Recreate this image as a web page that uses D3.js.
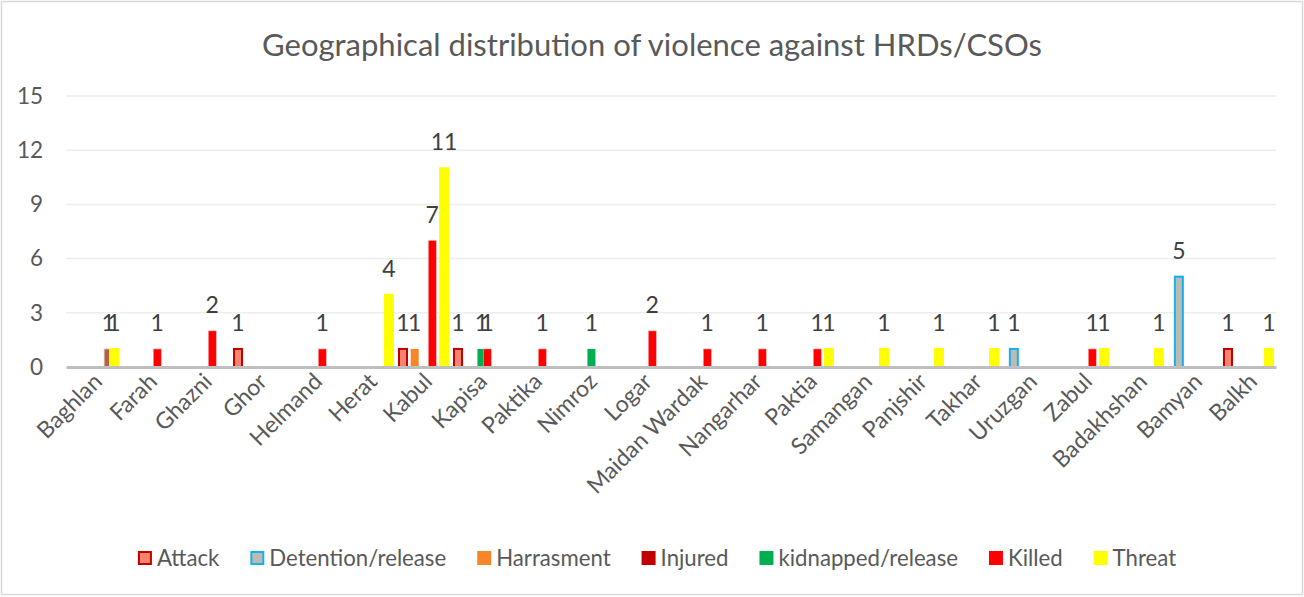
<!DOCTYPE html>
<html>
<head>
<meta charset="utf-8">
<script src="https://cdn.jsdelivr.net/npm/d3@7"></script>
<style>
  html, body { margin: 0; padding: 0; background: #fff; }
  svg { display: block; font-family: "Lato", "Open Sans", sans-serif; }
</style>
</head>
<body>
<svg id="chart" width="1304" height="597"></svg>
<script>
// Provinces along the category axis
const categories = ["Baghlan", "Farah", "Ghazni", "Ghor", "Helmand", "Herat", "Kabul", "Kapisa",
  "Paktika", "Nimroz", "Logar", "Maidan Wardak", "Nangarhar", "Paktia", "Samangan", "Panjshir",
  "Takhar", "Uruzgan", "Zabul", "Badakhshan", "Bamyan", "Balkh"];

// Incident counts per province, one array per incident type
const attack      = [0,0,0,1,0,0,1,1,0,0,0,0,0,0,0,0,0,0,0,0,0,1];
const detention   = [0,0,0,0,0,0,0,0,0,0,0,0,0,0,0,0,0,1,0,0,5,0];
const harrasment  = [0,0,0,0,0,0,1,0,0,0,0,0,0,0,0,0,0,0,0,0,0,0];
const injured     = [0,0,0,0,0,0,0,0,0,0,0,0,0,0,0,0,0,0,0,0,0,0];
const kidnapped   = [0,0,0,0,0,0,0,1,0,1,0,0,0,0,0,0,0,0,0,0,0,0];
const killed      = [0,1,2,0,1,0,7,1,1,0,2,1,1,1,0,0,0,0,1,0,0,0];
const unspecified = [1,0,0,0,0,0,0,0,0,0,0,0,0,0,0,0,0,0,0,0,0,0];
const threat      = [1,0,0,0,0,4,11,0,0,0,0,0,0,1,1,1,1,0,1,1,0,1];

const yTicks = [0, 3, 6, 9, 12, 15];

// Series in drawing order; the unlabelled one is kept out of the legend
const series = [
  { name: "Attack",            values: attack,      fill: "#F4846E", stroke: "#C00000", sw: 2,   legend: true },
  { name: "Detention/release", values: detention,   fill: "#BDBAB2", stroke: "#14B1EE", sw: 2,   legend: true },
  { name: "Harrasment",        values: harrasment,  fill: "#F7862A", stroke: "none",    sw: 0,   legend: true },
  { name: "Injured",           values: injured,     fill: "#C00000", stroke: "none",    sw: 0,   legend: true },
  { name: "kidnapped/release", values: kidnapped,   fill: "#00B050", stroke: "none",    sw: 0,   legend: true },
  { name: "Killed",            values: killed,      fill: "#FF0000", stroke: "#FFB0B0", sw: 0.6, legend: true },
  { name: "Unspecified",       values: unspecified, fill: "#B3604B", stroke: "#E8C8B0", sw: 0.8, legend: false },
  { name: "Threat",            values: threat,      fill: "#FFFF00", stroke: "#FFFF00", sw: 2,   legend: true }
];

const svg = d3.select("#chart");
const W = 1304, H = 597;
const plot = { left: 66, right: 1276, top: 96, bottom: 367 };
const textGrey = "#595959";
const font = "Lato, 'Open Sans', sans-serif";

// Chart frame
svg.append("rect")
  .attr("x", 1.5).attr("y", 1.5).attr("width", W - 3).attr("height", H - 4)
  .attr("fill", "#fff").attr("stroke", "#D9D9D9").attr("stroke-width", 1.5);

// Title
svg.append("text")
  .attr("x", 652).attr("y", 56)
  .attr("text-anchor", "middle")
  .attr("fill", textGrey)
  .style("font-size", "31px")
  .text("Geographical distribution of violence against HRDs/CSOs");

// Scales
const x0 = d3.scaleBand().domain(categories).range([plot.left, plot.right]).padding(0);
const x1 = d3.scalePoint().domain(series.map(s => s.name)).range([3, 44]);
const barW = 8;
const y = d3.scaleLinear().domain([0, 15]).range([plot.bottom, plot.top]);

// Gridlines
svg.append("g")
  .selectAll("line")
  .data(yTicks.filter(t => t > 0))
  .join("line")
  .attr("x1", plot.left).attr("x2", plot.right)
  .attr("y1", d => y(d)).attr("y2", d => y(d))
  .attr("stroke", "#EDEDED").attr("stroke-width", 1.5);

// Y axis labels
const yAxis = svg.append("g")
  .attr("transform", `translate(${plot.left},0)`)
  .call(d3.axisLeft(y).tickValues(yTicks).tickSize(0).tickPadding(23));
yAxis.select(".domain").remove();
yAxis.selectAll("text")
  .attr("fill", textGrey)
  .style("font-size", "22.5px")
  .style("font-family", font);

// Bars, one group per series
const barGroups = svg.append("g")
  .selectAll("g")
  .data(series)
  .join("g");

barGroups.selectAll("rect")
  .data(s => s.values.map((v, i) => ({ s, v, cat: categories[i] })).filter(d => d.v > 0))
  .join("rect")
  .attr("x", d => x0(d.cat) + x1(d.s.name))
  .attr("width", barW)
  .attr("y", d => y(d.v))
  .attr("height", d => y(0) - y(d.v))
  .attr("fill", d => d.s.fill)
  .attr("stroke", d => d.s.stroke)
  .attr("stroke-width", d => d.s.sw);

// X axis with rotated province names
const xAxis = svg.append("g")
  .attr("transform", `translate(0,${plot.bottom})`)
  .call(d3.axisBottom(x0).tickSize(0).tickPadding(0));
xAxis.select(".domain")
  .attr("stroke", "#BFBFBF").attr("stroke-width", 3);
xAxis.selectAll(".tick text")
  .attr("fill", textGrey)
  .style("font-size", "23px")
  .style("font-family", font)
  .attr("text-anchor", "end")
  .attr("dy", null)
  .attr("y", 0)
  .attr("transform", "translate(10,16) rotate(-45)");

// Value labels above bars
barGroups.selectAll("text.value")
  .data(s => s.values.map((v, i) => ({ s, v, cat: categories[i] })).filter(d => d.v > 0))
  .join("text")
  .attr("class", "value")
  .attr("x", d => x0(d.cat) + x1(d.s.name) + barW / 2)
  .attr("y", d => y(d.v) - 18)
  .attr("text-anchor", "middle")
  .attr("fill", "#404040")
  .style("font-size", "23px")
  .text(d => d.v);

// Legend
const legendItems = series.filter(s => s.legend);
const legend = svg.append("g").attr("transform", "translate(0,558)");
const items = legend.selectAll("g").data(legendItems).join("g");
items.append("rect")
  .attr("x", d => d.sw >= 2 ? 1 : 0).attr("y", d => d.sw >= 2 ? -6 : -7)
  .attr("width", d => d.sw >= 2 ? 12 : 14).attr("height", d => d.sw >= 2 ? 12 : 14)
  .attr("fill", d => d.fill)
  .attr("stroke", d => d.sw >= 2 ? d.stroke : "none")
  .attr("stroke-width", 2);
items.append("text")
  .attr("x", 19).attr("y", 8)
  .attr("fill", textGrey)
  .style("font-size", "22.2px")
  .text(d => d.name);

// Lay out legend entries in one centred row
const gap = 31;
const widths = [];
items.each(function () { widths.push(19 + this.querySelector("text").getComputedTextLength()); });
const total = d3.sum(widths) + gap * (widths.length - 1);
let cursor = 657 - total / 2;
items.attr("transform", (d, i) => {
  const t = `translate(${cursor},0)`;
  cursor += widths[i] + gap;
  return t;
});
</script>
</body>
</html>
